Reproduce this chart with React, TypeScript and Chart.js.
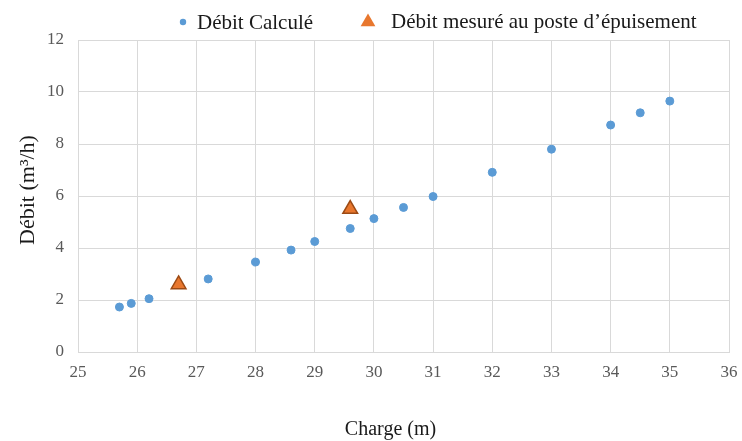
import React, { useEffect, useRef } from "react";
import { Chart, registerables } from "chart.js";

Chart.register(...registerables);

// Débit calculé en fonction de la charge
const chargeCalcule = [25.7, 25.9, 26.2, 27.2, 28.0, 28.6, 29.0, 29.6, 30.0, 30.5, 31.0, 32.0, 33.0, 34.0, 34.5, 35.0];
const debitCalcule = [1.73, 1.87, 2.05, 2.81, 3.46, 3.92, 4.25, 4.75, 5.13, 5.56, 5.98, 6.91, 7.8, 8.73, 9.2, 9.65];

// Débit mesuré au poste d'épuisement
const chargeMesure = [26.7, 29.6];
const debitMesure = [2.6, 5.5];

const xTickValues = [25, 26, 27, 28, 29, 30, 31, 32, 33, 34, 35, 36];
const yTickValues = [0, 2, 4, 6, 8, 10, 12];

const labelCalcule = "Débit Calculé";
const labelMesure = "Débit mesuré au poste d’épuisement";
const titleX = "Charge (m)";
const titleY = "Débit (m³/h)";

const SERIF = "'Liberation Serif', 'Times New Roman', serif";
const BLUE = "#5B9BD5";
const ORANGE = "#E8772E";
const ORANGE_EDGE = "#9C4A14";
const GRID = "#D9D9D9";
const TICK = "#595959";
const INK = "#1a1a1a";

// Legend above the plot and the two axis titles, placed from the chart area
const chartText = {
  id: "chartText",
  afterDraw(chart: any) {
    const { ctx, chartArea } = chart;
    const y = 22;
    ctx.save();
    ctx.font = `21px ${SERIF}`;
    ctx.textBaseline = "middle";
    ctx.textAlign = "left";

    const dotX = chartArea.left + 105;
    ctx.beginPath();
    ctx.arc(dotX, y, 3.2, 0, Math.PI * 2);
    ctx.fillStyle = BLUE;
    ctx.fill();
    ctx.fillStyle = INK;
    ctx.fillText(labelCalcule, dotX + 14, y + 1);

    const triX = chartArea.left + 290;
    const r = 8.5;
    ctx.beginPath();
    ctx.moveTo(triX, y - r);
    ctx.lineTo(triX + r * Math.sin((2 * Math.PI) / 3), y - r * Math.cos((2 * Math.PI) / 3));
    ctx.lineTo(triX + r * Math.sin((4 * Math.PI) / 3), y - r * Math.cos((4 * Math.PI) / 3));
    ctx.closePath();
    ctx.fillStyle = ORANGE;
    ctx.fill();
    ctx.fillStyle = INK;
    ctx.fillText(labelMesure, triX + 23, y);

    // x-axis title
    ctx.textAlign = "center";
    ctx.font = `20px ${SERIF}`;
    ctx.fillText(titleX, (chartArea.left + chartArea.right) / 2 - 13, 430);

    // y-axis title
    ctx.save();
    ctx.translate(28, (chartArea.top + chartArea.bottom) / 2 - 6);
    ctx.rotate(-Math.PI / 2);
    ctx.font = `22px ${SERIF}`;
    ctx.fillText(titleY, 0, 0);
    ctx.restore();

    ctx.restore();
  },
};

export default function App() {
  const canvasRef = useRef<HTMLCanvasElement | null>(null);

  useEffect(() => {
    document.body.style.margin = "0";
    const canvas = canvasRef.current;
    if (!canvas) return;

    const chart = new Chart(canvas, {
      type: "scatter",
      data: {
        datasets: [
          {
            label: labelCalcule,
            data: chargeCalcule.map((x, i) => ({ x, y: debitCalcule[i] })),
            backgroundColor: BLUE,
            borderColor: BLUE,
            pointRadius: 4,
            pointStyle: "circle",
          },
          {
            label: labelMesure,
            data: chargeMesure.map((x, i) => ({ x, y: debitMesure[i] })),
            backgroundColor: ORANGE,
            borderColor: ORANGE_EDGE,
            borderWidth: 1.5,
            pointRadius: 8.5,
            pointStyle: "triangle",
          },
        ],
      },
      options: {
        animation: false,
        responsive: false,
        maintainAspectRatio: false,
        layout: { padding: { top: 40, right: 13, left: 0, bottom: 0 } },
        plugins: {
          legend: { display: false },
          tooltip: { enabled: false },
        },
        scales: {
          x: {
            type: "linear",
            min: xTickValues[0],
            max: xTickValues[xTickValues.length - 1],
            afterBuildTicks: (scale: any) => {
              scale.ticks = xTickValues.map((v) => ({ value: v }));
            },
            afterFit: (scale: any) => {
              scale.height = 89;
              scale.paddingLeft = 0;
              scale.paddingRight = 0;
            },
            grid: { color: GRID, lineWidth: 1, drawTicks: false },
            border: { color: GRID, width: 1 },
            ticks: {
              color: TICK,
              font: { family: SERIF, size: 17 },
              padding: 10,
              maxRotation: 0,
            },
          },
          y: {
            type: "linear",
            min: yTickValues[0],
            max: yTickValues[yTickValues.length - 1],
            afterBuildTicks: (scale: any) => {
              scale.ticks = yTickValues.map((v) => ({ value: v }));
            },
            afterFit: (scale: any) => {
              scale.width = 78;
              scale.paddingTop = 0;
              scale.paddingBottom = 0;
            },
            grid: { color: GRID, lineWidth: 1, drawTicks: false },
            border: { color: GRID, width: 1 },
            ticks: {
              color: TICK,
              font: { family: SERIF, size: 17 },
              padding: 14,
            },
          },
        },
      },
      plugins: [chartText],
    });

    return () => chart.destroy();
  }, []);

  return (
    <div style={{ position: "absolute", left: 0, top: 0, width: 742, height: 441, background: "#fff" }}>
      <canvas ref={canvasRef} width={742} height={441} style={{ display: "block" }} />
    </div>
  );
}
